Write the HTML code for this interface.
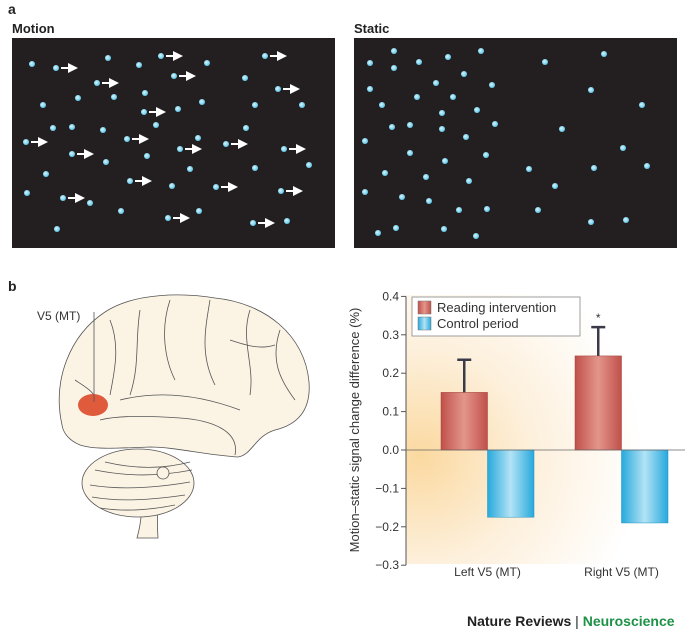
<!DOCTYPE html>
<html><head><meta charset="utf-8">
<style>
body{margin:0;background:#fff;width:685px;height:631px;overflow:hidden;font-family:"Liberation Sans",sans-serif;}
svg{position:absolute;left:0;top:0}
</style></head>
<body>
<svg width="685" height="631" viewBox="0 0 685 631" xmlns="http://www.w3.org/2000/svg">
<defs>
<radialGradient id="dotg" cx="0.4" cy="0.4" r="0.6"><stop offset="0" stop-color="#d8f4fc"/><stop offset="1" stop-color="#5ec7ea"/></radialGradient>
<radialGradient id="glow" cx="0.05" cy="0.6" r="0.8"><stop offset="0" stop-color="#fbd9a0"/><stop offset="0.5" stop-color="#fdf0dc"/><stop offset="1" stop-color="#ffffff"/></radialGradient>
<linearGradient id="redg" x1="0" x2="1"><stop offset="0" stop-color="#c0504a"/><stop offset="0.5" stop-color="#e3968c"/><stop offset="1" stop-color="#c0504a"/></linearGradient>
<linearGradient id="blueg" x1="0" x2="1"><stop offset="0" stop-color="#27a9dc"/><stop offset="0.5" stop-color="#b3e3f5"/><stop offset="1" stop-color="#27a9dc"/></linearGradient>
<marker id="ah" markerWidth="5" markerHeight="5" refX="2" refY="2.5" orient="auto"><path d="M0,0 L5,2.5 L0,5 Z" fill="#fff"/></marker>
</defs>
<text x="8" y="14" font-size="14" font-weight="bold" fill="#222">a</text>
<text x="12" y="33" font-size="13" font-weight="bold" fill="#222">Motion</text>
<text x="354" y="33" font-size="13" font-weight="bold" fill="#222">Static</text>
<rect x="12" y="38" width="323" height="210" fill="#231f20"/>
<rect x="354" y="38" width="323" height="210" fill="#231f20"/>
<g id="motionDots"></g><g id="staticDots"></g>
<text x="8" y="291" font-size="14" font-weight="bold" fill="#222">b</text>

<g stroke="#555" stroke-width="0.8" fill="#fbf3e4">
<path d="M138,455 C142,480 145,510 137,538 L158,538 C156,510 160,480 162,455 Z"/>
<ellipse cx="138" cy="483" rx="56" ry="34"/>
<path d="M95,470 C120,475 150,478 192,470 M90,485 C120,490 155,488 190,482 M92,497 C120,502 150,500 185,495 M100,508 C125,512 150,510 175,505 M105,462 C130,468 160,470 190,462" fill="none"/>
<circle cx="163" cy="473" r="6"/>
<path d="M62,425 C52,380 70,335 105,312 C135,292 185,293 215,298 C265,303 305,335 309,382 C311,408 300,424 275,430 C255,436 252,455 238,457 C205,455 175,447 150,447 C120,448 95,450 80,445 C68,440 63,432 62,425 Z"/>
<path d="M235,455 C240,430 210,420 180,418 C150,416 120,415 100,420" fill="none"/>
<path d="M170,300 C160,330 165,360 175,380 M210,300 C205,330 200,355 215,385 M250,310 C240,340 255,365 250,395 M110,320 C120,345 115,370 110,395 M140,310 C135,340 140,365 130,395 M280,330 C270,360 280,380 295,400 M120,400 C160,390 200,395 240,410 M75,380 C90,390 100,395 95,410 M230,340 C245,345 260,350 275,345" fill="none"/>
</g>
<ellipse cx="93" cy="405" rx="15" ry="11" fill="#e05a3c"/>
<line x1="94" y1="312" x2="94" y2="402" stroke="#555" stroke-width="0.8"/>
<text x="37" y="320" font-size="12" fill="#333">V5 (MT)</text>

<rect x="406" y="295" width="279" height="269" fill="url(#glow)"/>
<g id="chart"></g>

<text x="467" y="626" font-size="14" font-weight="bold" fill="#222">Nature Reviews <tspan fill="#222" font-weight="normal">|</tspan> <tspan fill="#1e9147">Neuroscience</tspan></text>
</svg>
<script>
const NS="http://www.w3.org/2000/svg";
function mk(tag,attrs,parent){const e=document.createElementNS(NS,tag);for(const k in attrs)e.setAttribute(k,attrs[k]);parent.appendChild(e);return e;}
const motionDots=[[32,64,0],[56,68,1],[108,58,0],[139,65,0],[161,56,1],[207,63,0],[97,83,1],[174,76,1],[245,78,0],[265,56,1],[278,89,1],[43,105,0],[78,98,0],[114,97,0],[145,93,0],[144,112,1],[178,109,0],[202,102,0],[255,105,0],[302,105,0],[53,128,0],[72,127,0],[103,130,0],[156,125,0],[246,128,0],[26,142,1],[127,139,1],[198,138,0],[72,154,1],[106,162,0],[147,156,0],[180,149,1],[226,144,1],[284,149,1],[46,174,0],[190,169,0],[255,168,0],[309,165,0],[130,181,1],[172,186,0],[216,187,1],[281,191,1],[27,193,0],[63,198,1],[90,203,0],[121,211,0],[168,218,1],[199,211,0],[57,229,0],[253,223,1],[287,221,0]];
const staticDots=[[394,51],[370,63],[394,68],[419,62],[448,57],[481,51],[545,62],[604,54],[464,74],[370,89],[436,83],[492,85],[591,90],[382,105],[417,97],[453,97],[642,105],[442,113],[477,110],[392,127],[410,125],[442,129],[495,124],[562,129],[365,141],[466,137],[623,148],[410,153],[486,155],[445,161],[385,173],[426,177],[469,181],[529,169],[594,168],[647,166],[555,186],[365,192],[402,197],[429,201],[459,210],[487,209],[538,210],[591,222],[626,220],[378,233],[396,228],[444,229],[476,236]];
const gm=document.getElementById('motionDots');
motionDots.forEach(d=>{const c=mk('circle',{cx:d[0],cy:d[1],r:3,fill:'url(#dotg)'},gm);


if(d[2]){const l=mk('line',{x1:d[0]+5,y1:d[1],x2:d[0]+16,y2:d[1],stroke:'#fff','stroke-width':2,'marker-end':'url(#ah)'},gm);

}});
const gs=document.getElementById('staticDots');
staticDots.forEach(d=>{const c=mk('circle',{cx:d[0],cy:d[1],r:3,fill:'url(#dotg)'},gs);

});

// chart data
const categories=["Left V5 (MT)","Right V5 (MT)"];
const reading=[0.15,0.245];
const readingErr=[0.085,0.075];
const control=[-0.175,-0.19];
const ticks=[0.4,0.3,0.2,0.1,0.0,-0.1,-0.2,-0.3];
const tickLabels=["0.4","0.3","0.2","0.1","0.0","\u22120.1","\u22120.2","\u22120.3"];
const X0=406,Y0=450,PX=384;
const y=v=>Y0-v*PX;
const groupX=i=>441+i*134;
const BW=46.5;
const g=document.getElementById('chart');
const ax=mk('line',{x1:X0,y1:y(0.4),x2:X0,y2:y(-0.3),stroke:'#555','stroke-width':1},g);


ticks.forEach((t,i)=>{
 const tk=mk('line',{x1:X0-5,y1:y(t),x2:X0,y2:y(t),stroke:'#555'},g);
 
 
 const tx=mk('text',{x:X0-7,y:y(t)+4,'font-size':12,'text-anchor':'end',fill:'#333'},g);
 tx.textContent=tickLabels[i];
 
 
});
categories.forEach((c,i)=>{
 const x=groupX(i);
 const r=mk('rect',{x:x,y:y(reading[i]),width:BW,height:y(0)-y(reading[i]),fill:'url(#redg)',stroke:'#a0403a','stroke-width':0.5},g);
 
 
 const e=mk('path',{d:`M${x+BW/2},${y(reading[i])} V${y(reading[i]+readingErr[i])} M${x+BW/2-7},${y(reading[i]+readingErr[i])} H${x+BW/2+7}`,stroke:'#3a3a48','stroke-width':2.5,fill:'none'},g);
 
 
 const b=mk('rect',{x:x+BW,y:y(0),width:BW,height:y(control[i])-y(0),fill:'url(#blueg)',stroke:'#1e8fbd','stroke-width':0.5},g);
 
 
 const t=mk('text',{x:x+BW,y:576,'font-size':12,'text-anchor':'middle',fill:'#333'},g);
 t.textContent=c;
 
 
});
const zl=mk('line',{x1:X0,y1:y(0),x2:685,y2:y(0),stroke:'#666','stroke-width':0.8},g);


const st=mk('text',{x:groupX(1)+BW/2,y:y(reading[1]+readingErr[1])-5,'font-size':12,'text-anchor':'middle',fill:'#333'},g);
st.textContent='*';


const yt=mk('text',{x:0,y:0,'font-size':13,'text-anchor':'middle',fill:'#333',transform:'translate(359,430) rotate(-90)'},g);
yt.textContent='Motion\u2013static signal change difference (%)';


const lb=mk('rect',{x:412,y:297,width:168,height:39,fill:'#fff',stroke:'#888','stroke-width':0.8},g);


[['url(#redg)','Reading intervention'],['url(#blueg)','Control period']].forEach((L,i)=>{
 const s=mk('rect',{x:418,y:301+i*16,width:13,height:13,fill:L[0],stroke:'#777','stroke-width':0.5},g);
 
 
 const t=mk('text',{x:437,y:312+i*16,'font-size':13,fill:'#333'},g);
 t.textContent=L[1];
 
 
});
</script>
</body></html>
